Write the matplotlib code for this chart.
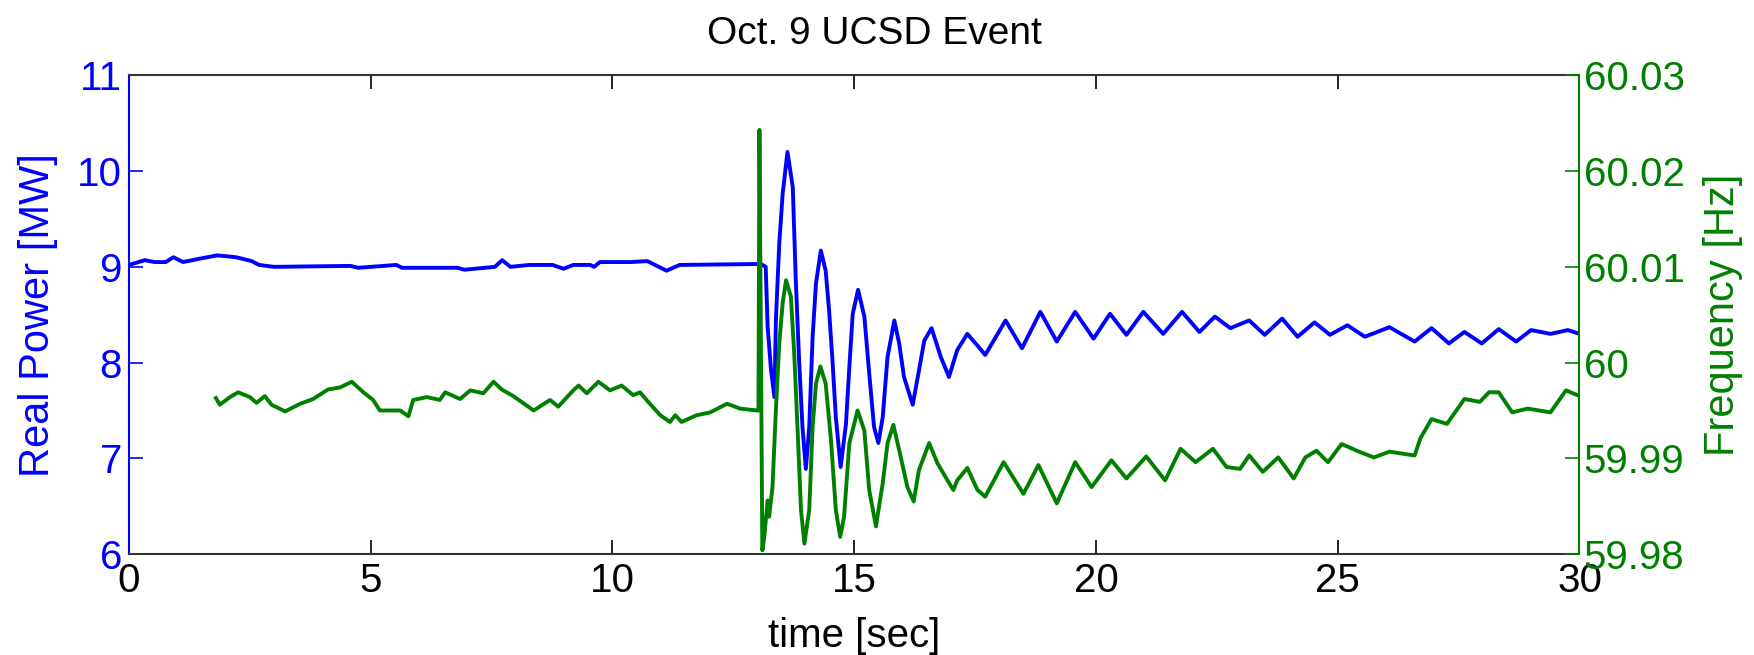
import matplotlib
matplotlib.use('Agg')
import matplotlib.pyplot as plt

plt.rcParams['font.family'] = ['Liberation Sans', 'DejaVu Sans']

# Real power [MW] vs time [sec]
t_power = [0.0, 0.33, 0.53, 0.76, 0.92, 1.12, 1.51, 1.83, 2.22, 2.54, 2.69, 3.0,
           4.58, 4.74, 5.53, 5.65, 6.79, 6.94, 7.57, 7.72, 7.89, 8.28, 8.76, 8.99,
           9.19, 9.54, 9.62, 9.74, 10.37, 10.72, 11.12, 11.39, 13.07, 13.17, 13.21,
           13.28, 13.35, 13.38, 13.45, 13.52, 13.62, 13.73, 13.79, 13.86, 13.93,
           14.0, 14.07, 14.14, 14.21, 14.31, 14.41, 14.48, 14.55, 14.62, 14.72,
           14.83, 14.90, 14.97, 15.08, 15.21, 15.31, 15.41, 15.50, 15.59, 15.69,
           15.83, 15.93, 16.03, 16.21, 16.34, 16.45, 16.60, 16.79, 16.96, 17.13,
           17.34, 17.58, 17.71, 18.13, 18.47, 18.85, 19.19, 19.57, 19.95, 20.29,
           20.63, 20.98, 21.39, 21.78, 22.14, 22.46, 22.78, 23.17, 23.49, 23.85,
           24.17, 24.52, 24.84, 25.2, 25.56, 26.07, 26.59, 26.94, 27.3, 27.62,
           27.98, 28.33, 28.69, 29.0, 29.4, 29.76, 30.0]
power = [9.02, 9.07, 9.05, 9.05, 9.10, 9.05, 9.09, 9.12, 9.10, 9.06, 9.02, 9.0,
         9.01, 8.99, 9.02, 8.99, 8.99, 8.97, 9.0, 9.07, 9.0, 9.02, 9.02, 8.98,
         9.02, 9.02, 9.0, 9.05, 9.05, 9.06, 8.96, 9.02, 9.03, 9.0, 8.37,
         7.92, 7.64, 8.44, 9.24, 9.76, 10.20, 9.83, 8.89, 8.03, 7.33,
         6.89, 7.33, 8.27, 8.83, 9.17, 8.96, 8.55, 8.03, 7.43, 6.91,
         7.36, 7.96, 8.51, 8.76, 8.48, 7.89, 7.33, 7.16, 7.43, 8.06,
         8.44, 8.20, 7.85, 7.56, 7.92, 8.23, 8.36, 8.06, 7.85, 8.13,
         8.30, 8.16, 8.08, 8.44, 8.15, 8.53, 8.22, 8.53, 8.25, 8.51,
         8.29, 8.53, 8.30, 8.53, 8.32, 8.48, 8.36, 8.44, 8.29, 8.46,
         8.27, 8.42, 8.29, 8.39, 8.27, 8.37, 8.22, 8.36, 8.20, 8.32,
         8.20, 8.35, 8.22, 8.34, 8.30, 8.34, 8.30]

# Frequency [Hz] vs time [sec]
t_freq = [1.80, 1.88, 2.09, 2.26, 2.50, 2.64, 2.81, 2.95, 3.23, 3.54, 3.81, 4.12,
          4.36, 4.61, 4.85, 5.05, 5.19, 5.61, 5.78, 5.88, 6.16, 6.43, 6.54, 6.85,
          7.06, 7.33, 7.54, 7.71, 7.95, 8.37, 8.71, 8.88, 9.19, 9.30, 9.47, 9.71,
          9.95, 10.19, 10.43, 10.57, 10.74, 10.99, 11.19, 11.30, 11.43, 11.74,
          12.02, 12.37, 12.64, 12.99, 13.02, 13.04, 13.10, 13.14, 13.21, 13.24,
          13.31, 13.38, 13.45, 13.52, 13.59, 13.69, 13.76, 13.83, 13.90, 13.97,
          14.07, 14.14, 14.21, 14.30, 14.41, 14.52, 14.62, 14.71, 14.79, 14.90,
          15.07, 15.21, 15.31, 15.45, 15.59, 15.69, 15.81, 15.96, 16.10, 16.23,
          16.34, 16.55, 16.72, 16.93, 17.05, 17.13, 17.34, 17.55, 17.71, 18.09,
          18.50, 18.81, 19.19, 19.57, 19.91, 20.32, 20.63, 21.04, 21.43, 21.75,
          22.06, 22.42, 22.70, 22.98, 23.17, 23.45, 23.77, 24.09, 24.33, 24.56,
          24.80, 25.08, 25.44, 25.75, 26.07, 26.59, 26.71, 26.94, 27.26, 27.62,
          27.94, 28.13, 28.33, 28.61, 28.93, 29.40, 29.72, 29.96]
freq = [59.9963, 59.9956, 59.9964, 59.9969, 59.9964, 59.9958, 59.9965, 59.9956,
        59.9949, 59.9957, 59.9962, 59.9972, 59.9974, 59.9980, 59.9969, 59.9961,
        59.9950, 59.9950, 59.9944, 59.9961, 59.9964, 59.9961, 59.9969, 59.9962,
        59.9971, 59.9968, 59.9980, 59.9972, 59.9965, 59.9950, 59.9961, 59.9954,
        59.9971, 59.9976, 59.9968, 59.9980, 59.9971, 59.9976, 59.9966, 59.9969,
        59.9959, 59.9945, 59.9938, 59.9945, 59.9938, 59.9945, 59.9948, 59.9957,
        59.9952, 59.9950, 59.9950, 60.0243, 59.9804, 59.9818, 59.9856, 59.9839,
        59.9870, 59.9950, 60.0020, 60.0062, 60.0086, 60.0069, 60.0009, 59.9929,
        59.9846, 59.9811, 59.9846, 59.9933, 59.9978, 59.9996, 59.9978, 59.9919,
        59.9846, 59.9818, 59.9839, 59.9916, 59.9950, 59.9929, 59.9867, 59.9829,
        59.9874, 59.9916, 59.9935, 59.9902, 59.9870, 59.9855, 59.9888, 59.9916,
        59.9895, 59.9877, 59.9867, 59.9877, 59.9890, 59.9867, 59.9860, 59.9896,
        59.9863, 59.9893, 59.9853, 59.9896, 59.9870, 59.9898, 59.9879, 59.9902,
        59.9877, 59.9910, 59.9896, 59.9910, 59.9891, 59.9889, 59.9903, 59.9886,
        59.9901, 59.9879, 59.9901, 59.9908, 59.9896, 59.9915, 59.9907, 59.9901,
        59.9907, 59.9903, 59.9921, 59.9941, 59.9936, 59.9962, 59.9959, 59.9969,
        59.9969, 59.9948, 59.9952, 59.9948, 59.9971, 59.9966]

x_ticks = [0, 5, 10, 15, 20, 25, 30]
power_ticks = [6, 7, 8, 9, 10, 11]
freq_ticks = [59.98, 59.99, 60.0, 60.01, 60.02, 60.03]
freq_labels = ['59.98', '59.99', '60', '60.01', '60.02', '60.03']

blue = '#0000ff'
green = '#008000'
fs = 29

fig = plt.figure(figsize=(17.54, 6.55), dpi=100)
ax1 = fig.add_axes([0.0735, 0.154, 0.827, 0.731])
ax2 = ax1.twinx()

ax1.plot(t_power, power, color=blue, lw=2.8)
ax2.plot(t_freq, freq, color=green, lw=2.8)

ax1.set_xlim(0, 30)
ax1.set_ylim(6, 11)
ax2.set_ylim(59.98, 60.03)

ax1.set_xticks(x_ticks)
ax1.set_yticks(power_ticks)
ax2.set_yticks(freq_ticks)
ax2.set_yticklabels(freq_labels)

# MATLAB-like styling: inward ticks, coloured y axes
ax1.tick_params(axis='x', direction='in', length=10, width=1.2, top=True,
                labelsize=fs, pad=6, colors='black')
ax1.tick_params(axis='y', direction='in', length=10, width=1.2, colors=blue,
                labelsize=fs, pad=5)
ax2.tick_params(axis='y', direction='in', length=10, width=1.2, colors=green,
                labelsize=fs, pad=3)

for sp in ['top', 'bottom']:
    ax1.spines[sp].set_color('#333333')
    ax1.spines[sp].set_linewidth(1.5)
ax1.spines['left'].set_color(blue)
ax1.spines['left'].set_linewidth(1.5)
ax1.spines['right'].set_visible(False)
ax2.spines['left'].set_visible(False)
ax2.spines['top'].set_visible(False)
ax2.spines['bottom'].set_visible(False)
ax2.spines['right'].set_color(green)
ax2.spines['right'].set_linewidth(1.5)

ax1.set_ylabel('Real Power [MW]', color=blue, fontsize=30, va='center')
ax1.yaxis.set_label_coords(-0.063, 0.5)
ax2.set_ylabel('Frequency [Hz]', color=green, fontsize=30, va='center')
ax2.yaxis.set_label_coords(1.099, 0.5)
ax1.set_xlabel('time [sec]', fontsize=fs, va='center')
ax1.xaxis.set_label_coords(0.5, -0.17)
fig.text(0.4985, 1 - 34 / 655, 'Oct. 9 UCSD Event', ha='center', va='center',
         fontsize=28)

fig.savefig('out.png', dpi=100, facecolor='white')
plt.close(fig)
